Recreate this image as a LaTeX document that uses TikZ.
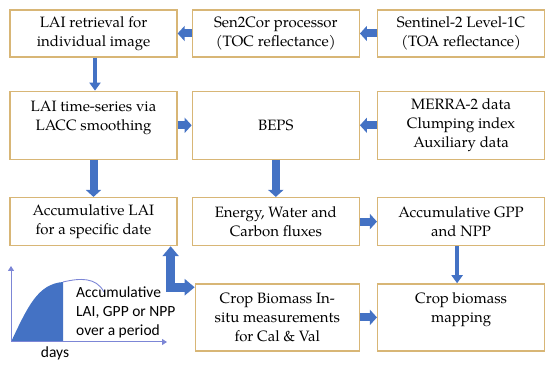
\documentclass[tikz,border=0pt]{standalone}
\usepackage{fontspec}
\setmainfont{texgyrepagella-regular.otf}
\newfontfamily\calib{Carlito}
\usetikzlibrary{positioning,arrows.meta}
\definecolor{oro}{HTML}{D8B676}
\definecolor{azul}{HTML}{4472C4}
\definecolor{eje}{HTML}{7C86D6}

\begin{document}
\begin{tikzpicture}[x=1pt,y=1pt,
      box/.style={draw=oro,line width=1.3pt,minimum width=167pt,inner sep=0pt,
                  align=center,font=\fontsize{15}{19}\selectfont},
      fat/.style={draw=azul,line width=8pt,-{Triangle[length=7pt,width=15pt]}},
      slim/.style={draw=azul,line width=4pt,-{Triangle[length=8pt,width=11pt]}},
      node distance=33pt and 14pt]
    \useasboundingbox (0,0) rectangle (550,366);
    % row 1
    \node[box,minimum height=47pt] (lai1) at (93.5,332.5) {LAI retrieval for\\individual image};
    \node[box,minimum height=47pt,right=of lai1] (s2c) {Sen2Cor processor\\(TOC reflectance)};
    \node[box,minimum height=47pt,right=17pt of s2c] (s2) {Sentinel-2 Level-1C\\(TOA reflectance)};
    % row 2
    \node[box,minimum height=68pt,below=of lai1] (laits) {LAI time-series via\\LACC smoothing\\\mbox{}};
    \node[box,minimum height=68pt,below=of s2c] (beps) {BEPS};
    \node[box,minimum height=68pt,below=of s2] (merra) {MERRA-2 data\\Clumping index\\Auxiliary data};
    % row 3
    \node[box,minimum height=48pt,below=37pt of laits] (acclai) {Accumulative LAI\\for a specific date};
    \node[box,minimum height=48pt,below=37pt of beps] (nrg) {Energy, Water and\\Carbon fluxes};
    \node[box,minimum height=48pt,below=37pt of merra] (accgpp) {Accumulative GPP\\and NPP};
    % row 4
    \node[box,minimum height=67pt,minimum width=164pt,below=37pt of nrg,xshift=1.5pt] (insitu)
      {Crop Biomass In-\\situ measurements\\for Cal \& Val};
    \node[box,minimum height=67pt,below=37pt of accgpp] (map) {Crop biomass\\mapping\\\mbox{}};
    \draw[fat] (s2) -- (s2c);
    \draw[fat] (s2c) -- (lai1);
    \draw[slim] ([xshift=1.5pt]lai1.south) -- ([xshift=1.5pt]laits.north);
    \draw[fat] (laits) -- (beps);
    \draw[fat] (merra) -- (beps);
    \draw[fat] (laits) -- (acclai);
    \draw[fat] (beps) -- (nrg);
    \draw[fat] (nrg) -- (accgpp);
    \draw[slim] ([xshift=-4pt]accgpp.south) -- ([xshift=-4pt]map.north);
    \draw[fat] (insitu) -- (map);
    \coordinate (kink) at ([xshift=-7pt,yshift=-41pt]acclai.south east);
    \draw[draw=azul,line width=9pt,{Triangle[length=10pt,width=16pt]}-{Triangle[length=10pt,width=16pt]}]
      (acclai.south -| kink) -- (kink) -- (kink -| insitu.west);
    % small accumulation sketch
    \coordinate (orig) at (11,24);
    \fill[azul] (orig) .. controls (28,60) and (38,82) .. (63,84) -- (63,24) -- cycle;
    \draw[eje,line width=0.9pt] (63,84) .. controls (80,88) and (96,89) .. (104,74);
    \draw[eje,line width=1pt,-{Triangle[length=5pt,width=6pt]}] (orig) -- (11,100);
    \draw[eje,line width=1pt,-{Triangle[length=5pt,width=6pt]}] (orig) -- (167,24);
    \node[anchor=west,align=left,inner sep=0pt,font=\calib\fontsize{15.5}{19}\selectfont] (cumtxt) at (76,54)
      {Accumulative\\LAI, GPP or NPP\\over a period};
    \node[inner sep=0pt,font=\calib\fontsize{15.5}{19}\selectfont] (days) at (55,13) {days};
  \end{tikzpicture}
\end{document}
